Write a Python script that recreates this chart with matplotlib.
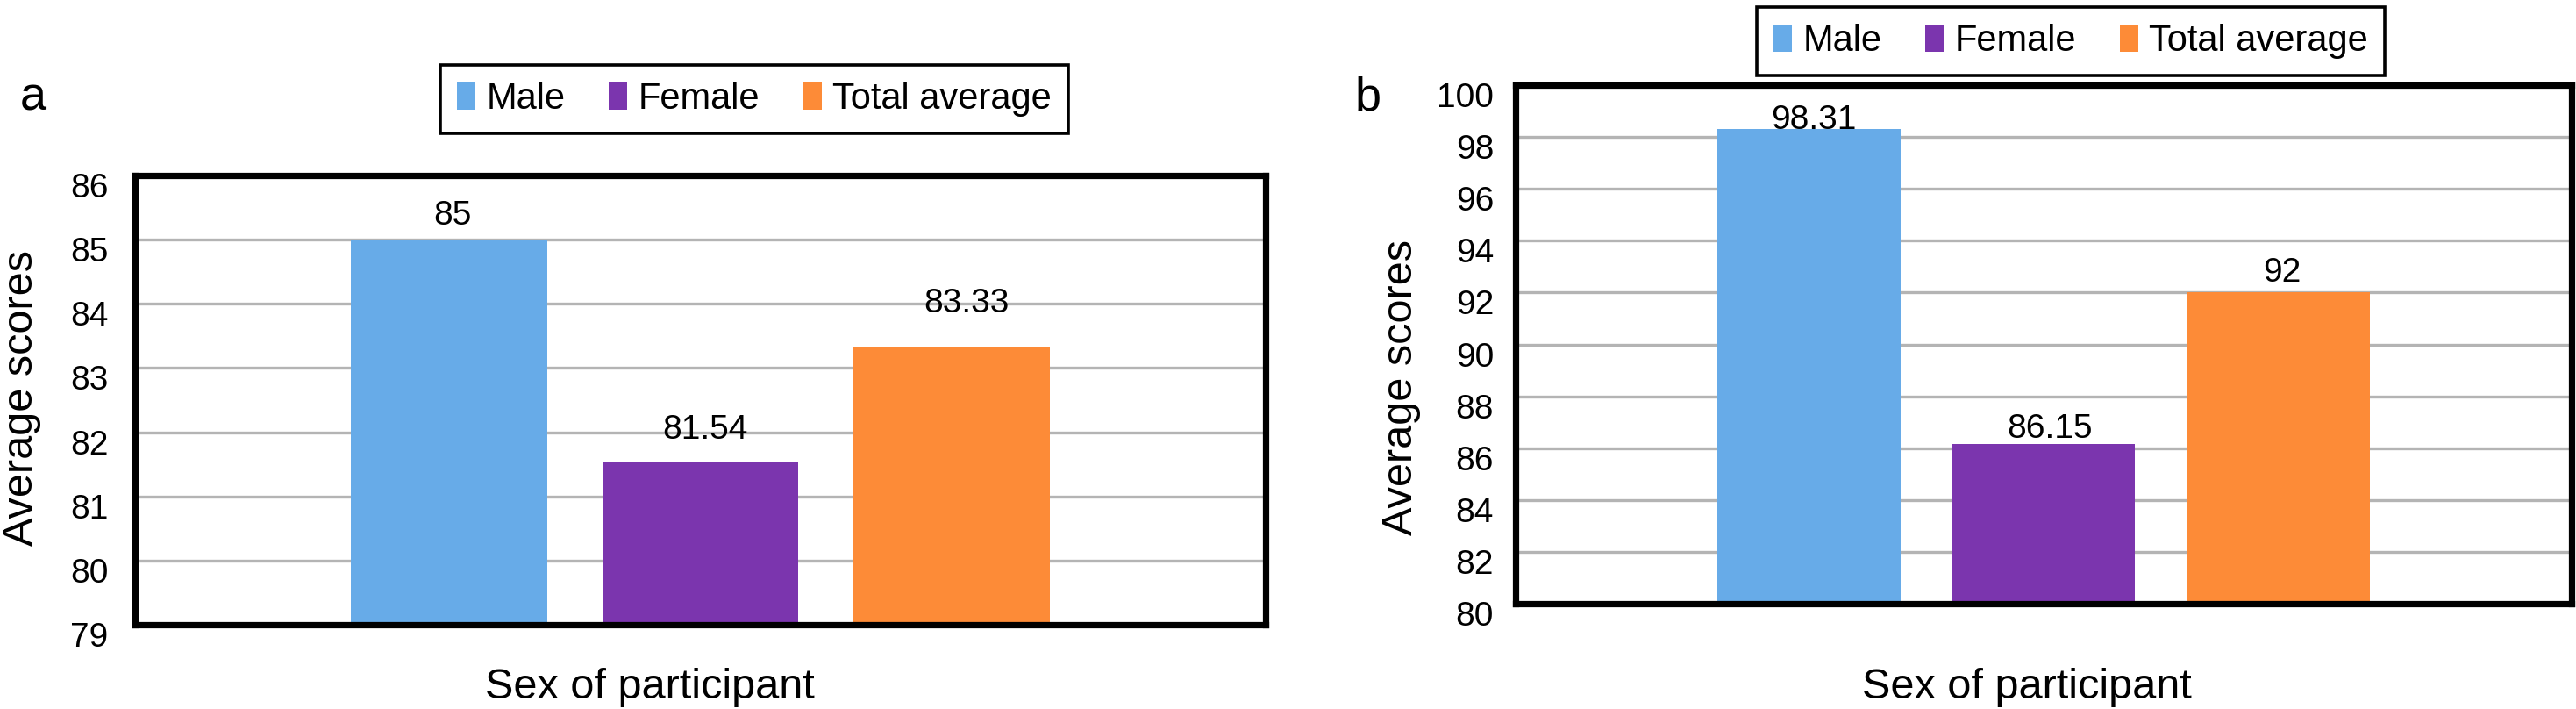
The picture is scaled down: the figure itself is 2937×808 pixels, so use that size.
import matplotlib
matplotlib.use("Agg")
import matplotlib.pyplot as plt
import matplotlib.transforms as mtransforms
from matplotlib.patches import Patch

plt.rcParams['font.family'] = ['Liberation Sans', 'DejaVu Sans']

# ---------------- data ----------------
categories = ["Male", "Female", "Total average"]
scores_a = [85, 81.54, 83.33]
scores_b = [98.31, 86.15, 92]
yticks_a = [79, 80, 81, 82, 83, 84, 85, 86]
yticks_b = [80, 82, 84, 86, 88, 90, 92, 94, 96, 98, 100]
panel_letters = ["a", "b"]
xlabel_text = "Sex of participant"
ylabel_text = "Average scores"

# ---------------- style ----------------
colors = ["#67ABE8", "#7B35AE", "#FD8B37"]
W, H = 2937, 808
DPI = 100
fig = plt.figure(figsize=(W / DPI, H / DPI), dpi=DPI)


def frac_box(l, r, t, b):
    return [l / W, 1 - b / H, (r - l) / W, (b - t) / H]


def fx(px):
    return px / W


def fy(py):
    return 1 - py / H


panels = [
    dict(box=(154, 1443, 200, 712), scores=scores_a, yticks=yticks_a, ylim=(79, 86),
         tickpad=22, lab_off=[(3, 12), (4, 19), (12, 28)],
         letter=(38, 125), ylab=(25, 453), xlab=(741, 783), legend=(860, 113)),
    dict(box=(1728, 2932, 97, 688), scores=scores_b, yticks=yticks_b, ylim=(80, 100),
         tickpad=18, lab_off=[(4, 0), (5, 5), (3, 9)],
         letter=(1560, 126), ylab=(1598, 442), xlab=(2311, 783), legend=(2361, 47)),
]

x = list(range(len(categories)))
for letter, p in zip(panel_letters, panels):
    ax = fig.add_axes(frac_box(*p["box"]))
    ax.set_axisbelow(True)
    ax.yaxis.grid(True, color="#B4B4B4", linewidth=2.4)
    ax.bar(x, p["scores"], width=0.78, color=colors, zorder=2)
    ax.set_xlim(-1.25, 3.25)
    ax.set_ylim(*p["ylim"])
    ax.set_yticks(p["yticks"])
    ax.set_xticks([])
    ax.tick_params(axis="y", length=0, labelsize=28, pad=p["tickpad"])
    for s in ax.spines.values():
        s.set_linewidth(5.2)
        s.set_color("black")
    offset = mtransforms.ScaledTranslation(0, -11 / DPI, fig.dpi_scale_trans)
    for lab in ax.get_yticklabels():
        lab.set_transform(lab.get_transform() + offset)

    for xi, v, (dx, dy) in zip(x, p["scores"], p["lab_off"]):
        ax.annotate(f"{v:g}", xy=(xi, v), xytext=(dx, dy), textcoords="offset points",
                    ha="center", va="baseline", fontsize=28, zorder=3)

    fig.text(fx(p["letter"][0]), fy(p["letter"][1]), letter, fontsize=39,
             ha="center", va="baseline")
    fig.text(fx(p["ylab"][0]), fy(p["ylab"][1]), ylabel_text, fontsize=35,
             rotation=90, ha="center", va="center")
    fig.text(fx(p["xlab"][0]), fy(p["xlab"][1]), xlabel_text, fontsize=35,
             ha="center", va="center")

    handles = [Patch(facecolor=c, edgecolor="none", label=lab)
               for c, lab in zip(colors, categories)]
    leg = fig.legend(handles=handles, loc="center",
                     bbox_to_anchor=(fx(p["legend"][0]), fy(p["legend"][1])),
                     ncol=3, fontsize=30, frameon=True, fancybox=False,
                     framealpha=1, edgecolor="black", handlelength=0.5,
                     handleheight=0.75, handletextpad=0.3, columnspacing=1.2,
                     borderpad=0.45)
    leg.get_frame().set_linewidth(2.6)

fig.savefig("out.png", dpi=DPI)
